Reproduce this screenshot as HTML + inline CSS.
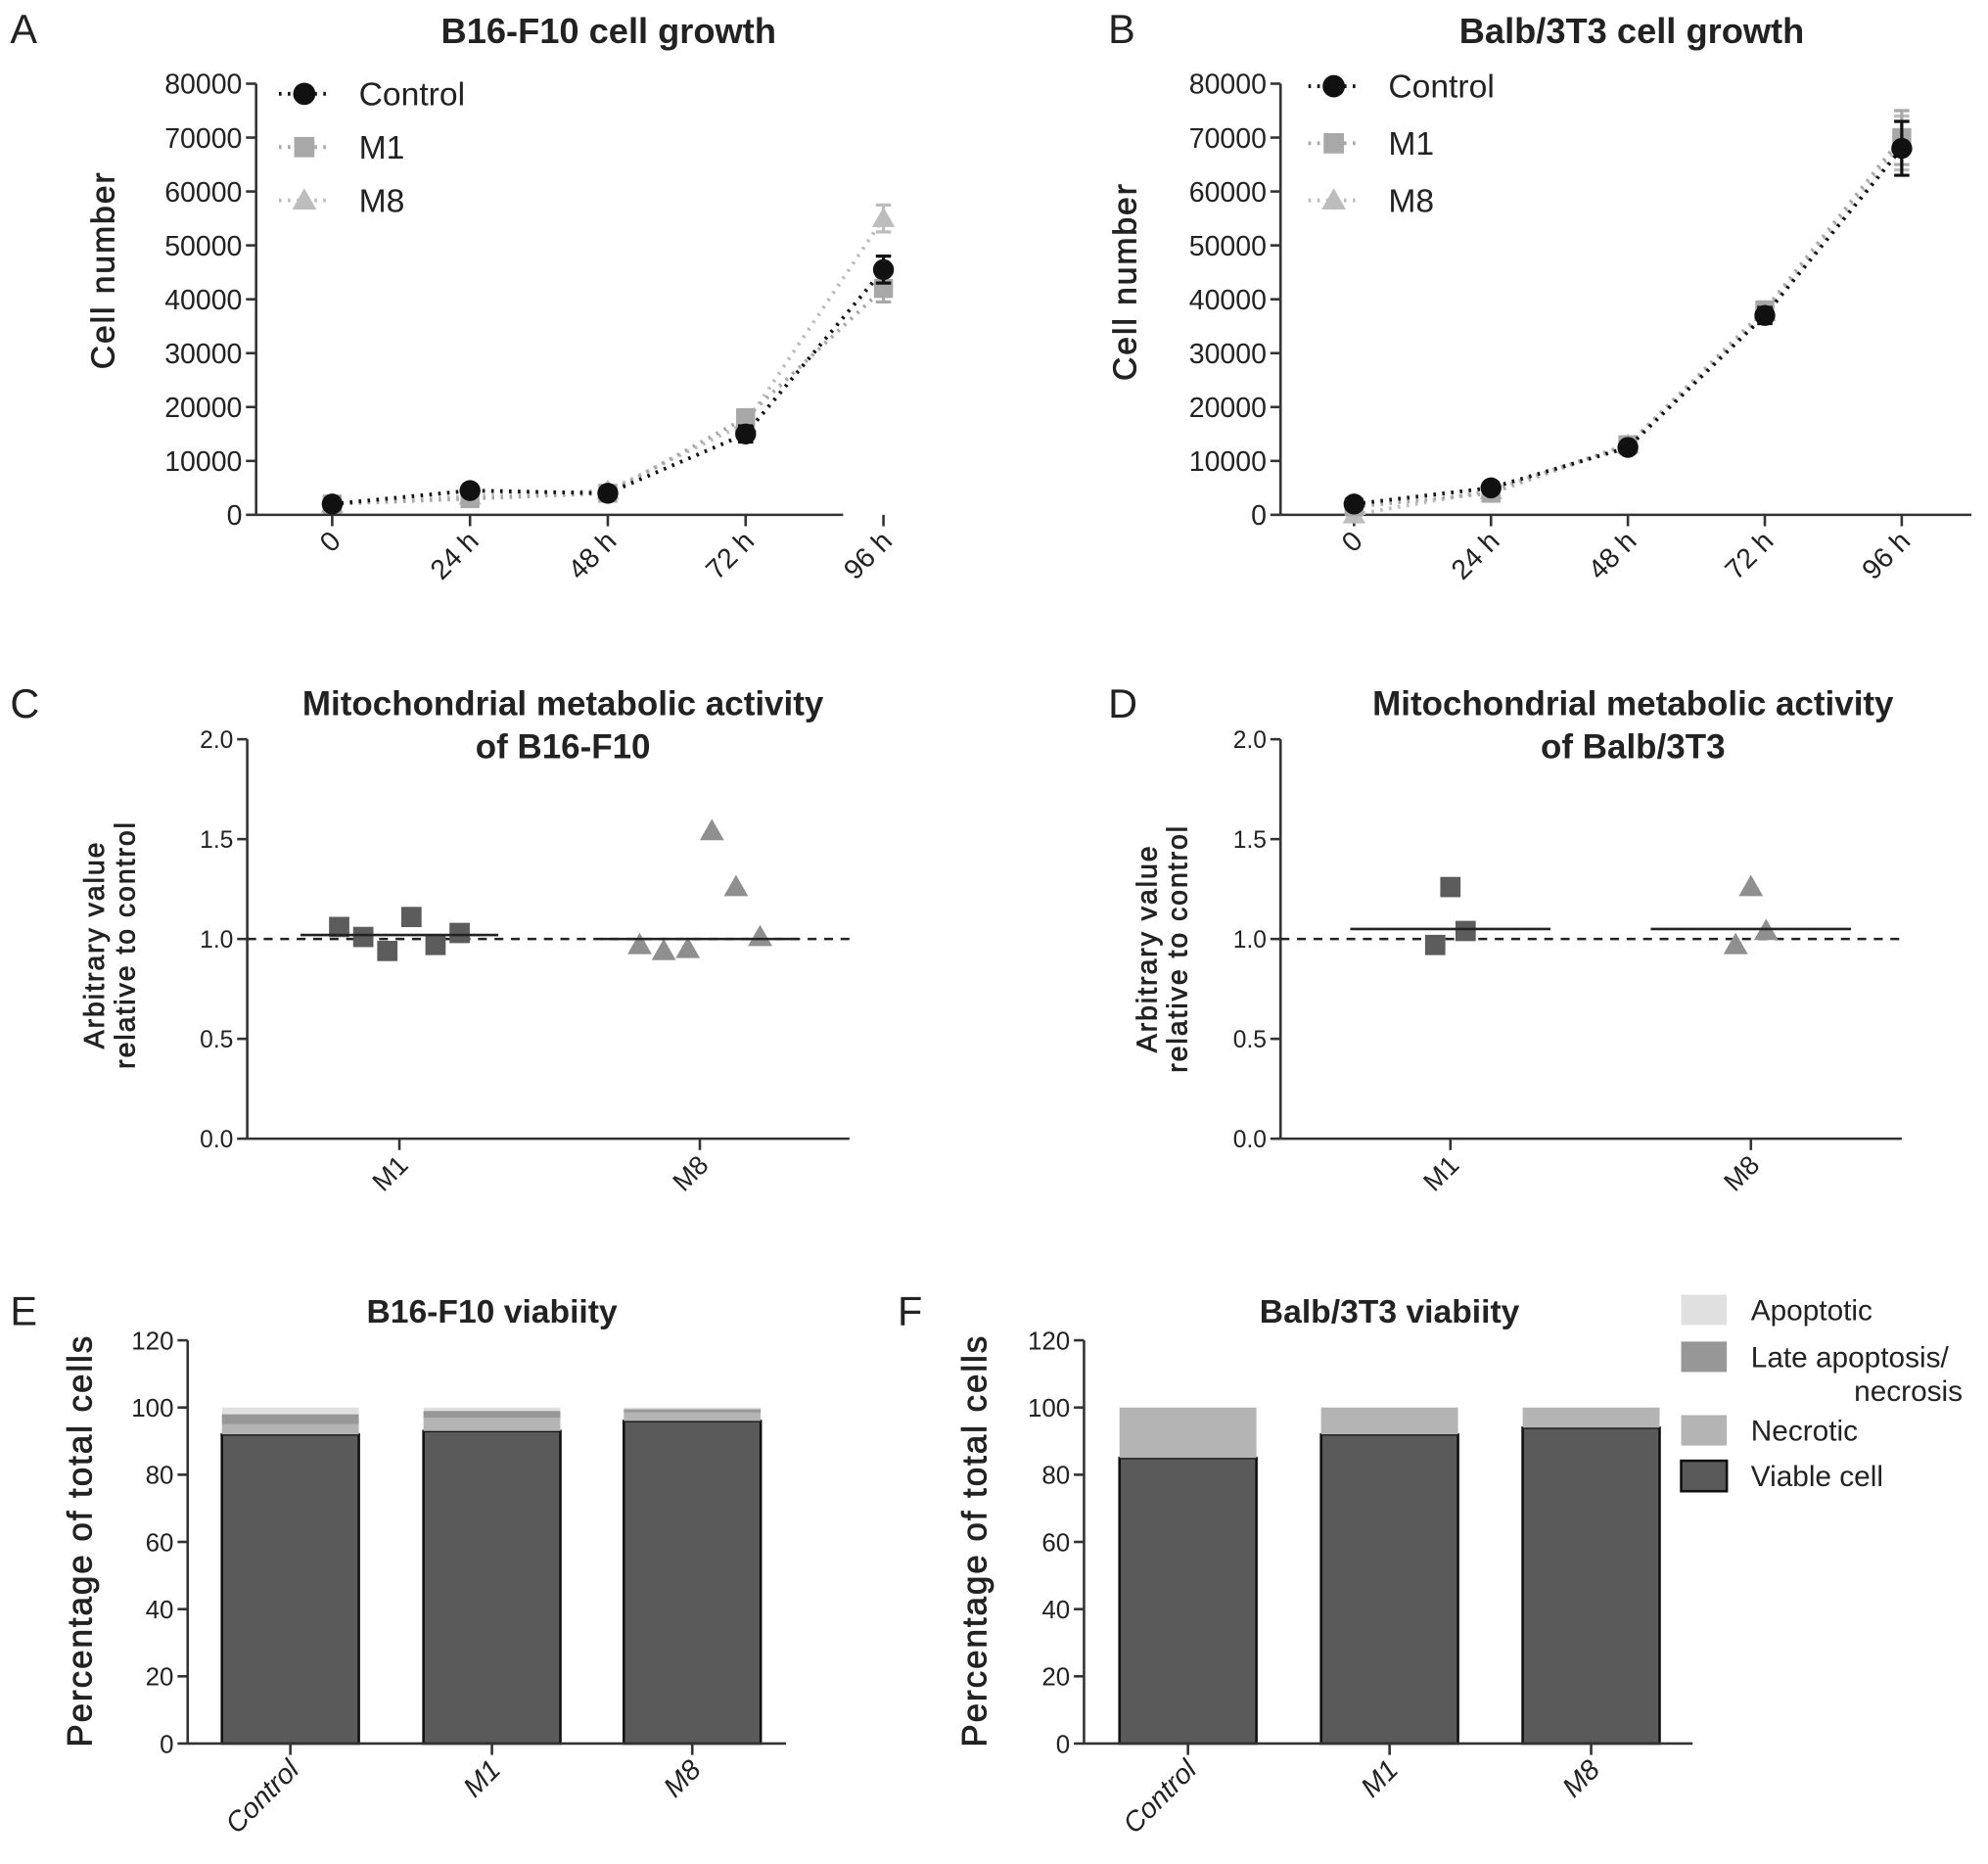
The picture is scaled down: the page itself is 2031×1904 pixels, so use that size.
<!DOCTYPE html>
<html><head><meta charset="utf-8"><style>
html,body{margin:0;padding:0;background:#fff}
svg{display:block}
text{font-family:"Liberation Sans",sans-serif;fill:#222}
</style></head><body>
<svg id="fig" width="2031" height="1904" viewBox="0 0 1568 1470" xmlns="http://www.w3.org/2000/svg"></svg>
<script>
// ---- Panel A/B data ----
const timeLabels = ["0","24 h","48 h","72 h","96 h"];
const growthTicks = [0,10000,20000,30000,40000,50000,60000,70000,80000];
const aControl = [2000,4500,4000,15000,45500];
const aM1 = [2000,3000,4000,18000,42000];
const aM8 = [2000,3500,4500,17000,55000];
const aErr = [500,500,800,1500,2500];
const bControl = [2000,5000,12500,37000,68000];
const bM1 = [1500,4000,13000,38000,70000];
const bM8 = [0,4500,13000,37500,69000];
const bErr = [500,600,900,1500,5000];
// ---- Panel C/D data ----
const mitoTicks = [0.0,0.5,1.0,1.5,2.0];
const mitoCats = ["M1","M8"];
const cM1 = [1.06,1.01,0.94,1.11,0.97,1.03];
const cM8 = [0.97,0.94,0.95,1.54,1.26,1.01];
const cMeans = [1.02,1.0];
const dM1 = [0.97,1.26,1.04];
const dM8 = [0.97,1.26,1.04];
const dMeans = [1.05,1.05];
// ---- Panel E/F data ----
const viaCats = ["Control","M1","M8"];
const viaTicks = [0,20,40,60,80,100,120];
const eViable = [92,93,96];
const eNecrotic = [3,4,2.5];
const eLate = [3,2,1];
const eApop = [2,1,0.5];
const fViable = [85,92,94];
const fNecrotic = [15,8,6];
const fLate = [0,0,0];
const fApop = [0,0,0];

const NS="http://www.w3.org/2000/svg";
const svg=document.getElementById('fig');
function mk(tag,attrs,parent){const e=document.createElementNS(NS,tag);for(const k in attrs)e.setAttribute(k,attrs[k]);(parent||svg).appendChild(e);return e;}
function txt(s,attrs,parent){const e=mk('text',attrs,parent);e.textContent=s;return e;}

function label(s,x,y,size,bold,name){
  const t=txt(s,{x:x,y:y,'font-size':size,'font-weight':bold?'bold':'normal','text-anchor':'middle'});
  
  
  return t;
}
function panelLetter(s,x,y){
  const t=txt(s,{x:x,y:y,'font-size':32});
  
  
}
function ylabel(lines,x,cy,size){
  const g=mk('g',{transform:`translate(${x},${cy}) rotate(-90)`});
  
  
  lines.forEach((l,i)=>{txt(l,{x:0,y:i*size*1.1,'font-size':size,'text-anchor':'middle','letter-spacing':1.5,stroke:'#222','stroke-width':0.6},g);});
}
function yAxis(x,y0,y1,ticks,scale,fmt,size){
  const g=mk('g',{});
  
  
  mk('line',{x1:x,x2:x,y1:y0,y2:y1,stroke:'#333','stroke-width':2},g);
  ticks.forEach(v=>{const y=scale(v);
    mk('line',{x1:x-8,x2:x,y1:y,y2:y,stroke:'#333','stroke-width':2},g);
    const t=txt(fmt(v),{x:x-11,y:y+size*0.36,'font-size':size,'text-anchor':'end'},g);
    
    
  });
}
function xAxis(x0,x1,y,cats,xs,size,italic){
  const g=mk('g',{});
  
  
  mk('line',{x1:x0,x2:x1,y1:y,y2:y,stroke:'#333','stroke-width':2},g);
  cats.forEach((c,i)=>{const x=xs(i);
    mk('line',{x1:x,x2:x,y1:y,y2:y+9,stroke:'#333','stroke-width':2},g);
    const t=txt(c,{x:0,y:0,'font-size':size,'text-anchor':'end','font-style':italic?'italic':'normal',transform:`translate(${x+8},${y+22}) rotate(-45)`},g);
    
    
  });
}
function marker(type,x,y,color,s,parent,name){
  let e;
  if(type==='circle')e=mk('circle',{cx:x,cy:y,r:s*0.55,fill:color},parent);
  else if(type==='square')e=mk('rect',{x:x-s/2,y:y-s/2,width:s,height:s,fill:color},parent);
  else e=mk('polygon',{points:`${x},${y-s*0.6} ${x-s*0.6},${y+s*0.45} ${x+s*0.6},${y+s*0.45}`,fill:color},parent);
  
  
  return e;
}

// ---------- growth panels ----------
function growth(o){
  const ys=v=>o.y0-(v/80000)*(o.y0-o.y1);
  const xs=i=>o.xt0+i*o.dx;
  yAxis(o.ax,o.y0,o.y1,growthTicks,ys,v=>String(v),22);
  xAxis(o.ax,o.ax2,o.y0,timeLabels,xs,22,false);
  const series=[[o.c,'circle','#111','control'],[o.m1,'square','#a8a8a8','m1'],[o.m8,'triangle','#bdbdbd','m8']];
  series.slice().reverse().forEach(([d,type,col,nm])=>{
    const g=mk('g',{});
    
    
    const pl=mk('polyline',{points:d.map((v,i)=>xs(i)+','+ys(v)).join(' '),fill:'none',stroke:col,'stroke-width':3,'stroke-dasharray':'2,5'},g);
    
    
    d.forEach((v,i)=>{
      const e=o.err[i];
      const eb=mk('path',{d:`M${xs(i)},${ys(v-e)}V${ys(v+e)}M${xs(i)-6},${ys(v-e)}h12M${xs(i)-6},${ys(v+e)}h12`,stroke:col,'stroke-width':2.5,fill:'none'},g);
      
      
      marker(type,xs(i),ys(v),col,15,g,'point-'+nm);
    });
  });
  const lg=mk('g',{});
  
  
  series.forEach(([d,type,col,nm],k)=>{
    const y=o.ly[k];
    mk('line',{x1:o.lx-20,x2:o.lx+20,y1:y,y2:y,stroke:col,'stroke-width':3,'stroke-dasharray':'2,5'},lg);
    marker(type,o.lx,y,col,16,lg,'legend-marker-'+nm);
    const t=txt(['Control','M1','M8'][k],{x:o.lx+43,y:y+9,'font-size':26,fill:'#444'},lg);
    
    
  });
}
panelLetter('A',8,34);
label('B16-F10 cell growth',480,34,28,true,'chart-title');
ylabel(['Cell number'],90,213,26);
growth({ax:202,ax2:665,y0:406,y1:66,xt0:262,dx:108.7,c:aControl,m1:aM1,m8:aM8,err:aErr,lx:240,ly:[74,116,158]});
panelLetter('B',874,34);
label('Balb/3T3 cell growth',1287,34,28,true,'chart-title');
ylabel(['Cell number'],896,222,26);
growth({ax:1010,ax2:1555,y0:406,y1:66,xt0:1068,dx:108,c:bControl,m1:bM1,m8:bM8,err:bErr,lx:1052,ly:[68,113,158]});

// ---------- mito panels ----------
function mito(o){
  const ys=v=>o.y0-(v/2)*(o.y0-o.y1);
  const xs=i=>o.cx[i];
  yAxis(o.ax,o.y0,o.y1,mitoTicks,ys,v=>v.toFixed(1),19);
  xAxis(o.ax,o.ax2,o.y0,mitoCats,xs,21,false);
  const dl=mk('line',{x1:o.ax,x2:o.ax2,y1:ys(1),y2:ys(1),stroke:'#222','stroke-width':2,'stroke-dasharray':'7,6'});
  
  
  [[o.m1,'square','#5c5c5c'],[o.m8,'triangle','#8f8f8f']].forEach(([d,type,col],c)=>{
    const g=mk('g',{});
    
    
    const n=d.length;
    d.forEach((v,i)=>{const x=xs(c)+(i-(n-1)/2)*o.spread;marker(type,x,ys(v),col,16,g,'point');});
    const ml=mk('line',{x1:xs(c)-o.mw,x2:xs(c)+o.mw,y1:ys(o.means[c]),y2:ys(o.means[c]),stroke:'#222','stroke-width':2},g);
    
    
  });
}
panelLetter('C',8,566);
label('Mitochondrial metabolic activity',444,564,27,true,'chart-title');
label('of B16-F10',444,598,27,true,'chart-subtitle');
ylabel(['Arbitrary value','relative to control'],82,745,22);
mito({ax:195,ax2:670,y0:898,y1:583,cx:[315,552],m1:cM1,m8:cM8,means:cMeans,spread:19,mw:78});
panelLetter('D',874,566);
label('Mitochondrial metabolic activity',1288,564,27,true,'chart-title');
label('of Balb/3T3',1288,598,27,true,'chart-subtitle');
ylabel(['Arbitrary value','relative to control'],912,748,22);
mito({ax:1010,ax2:1500,y0:898,y1:583,cx:[1144,1381],m1:dM1,m8:dM8,means:dMeans,spread:12,mw:79});

// ---------- viability panels ----------
const stackCols=['#5a5a5a','#b4b4b4','#979797','#e0e0e0'];
const stackNames=['viable','necrotic','late-apoptosis','apoptotic'];
function via(o){
  const ys=v=>o.y0-(v/120)*(o.y0-o.y1);
  const xs=i=>o.cx[i];
  yAxis(o.ax,o.y0,o.y1,viaTicks,ys,v=>String(v),20);
  const stacks=[o.v,o.n,o.l,o.a];
  viaCats.forEach((c,i)=>{
    const g=mk('g',{});
    
    
    let base=0;
    stacks.forEach((s,k)=>{
      const v=s[i]; if(v<=0)return;
      const r=mk('rect',{x:xs(i)-54,y:ys(base+v),width:108,height:ys(base)-ys(base+v),fill:stackCols[k],stroke:k===0?'#111':'none','stroke-width':2},g);
      
      
      base+=v;
    });
  });
  xAxis(o.ax,o.ax2,o.y0,viaCats,xs,22,true);
}
panelLetter('E',8,1045);
label('B16-F10 viabiity',388,1043,26,true,'chart-title');
ylabel(['Percentage of total cells'],72,1215,27);
via({ax:148,ax2:620,y0:1375,y1:1057,cx:[229,388,546],v:eViable,n:eNecrotic,l:eLate,a:eApop});
panelLetter('F',708,1045);
label('Balb/3T3 viabiity',1096,1043,26,true,'chart-title');
ylabel(['Percentage of total cells'],778,1215,27);
via({ax:855,ax2:1335,y0:1375,y1:1057,cx:[937,1096,1255],v:fViable,n:fNecrotic,l:fLate,a:fApop});
const vl=mk('g',{});


[['Apoptotic',3,1033],['Late apoptosis/',2,1070],['Necrotic',1,1128],['Viable cell',0,1164]].forEach(([s,k,y])=>{
  const r=mk('rect',{x:1326,y:y-12,width:36,height:24,fill:stackCols[k],stroke:k===0?'#111':'none','stroke-width':2},vl);
  
  
  const t=txt(s,{x:1381,y:y+8,'font-size':23,fill:'#444'},vl);
  
  
});
const nt=txt('necrosis',{x:1548,y:1105,'font-size':23,fill:'#444','text-anchor':'end'},vl);


</script>
</body></html>
